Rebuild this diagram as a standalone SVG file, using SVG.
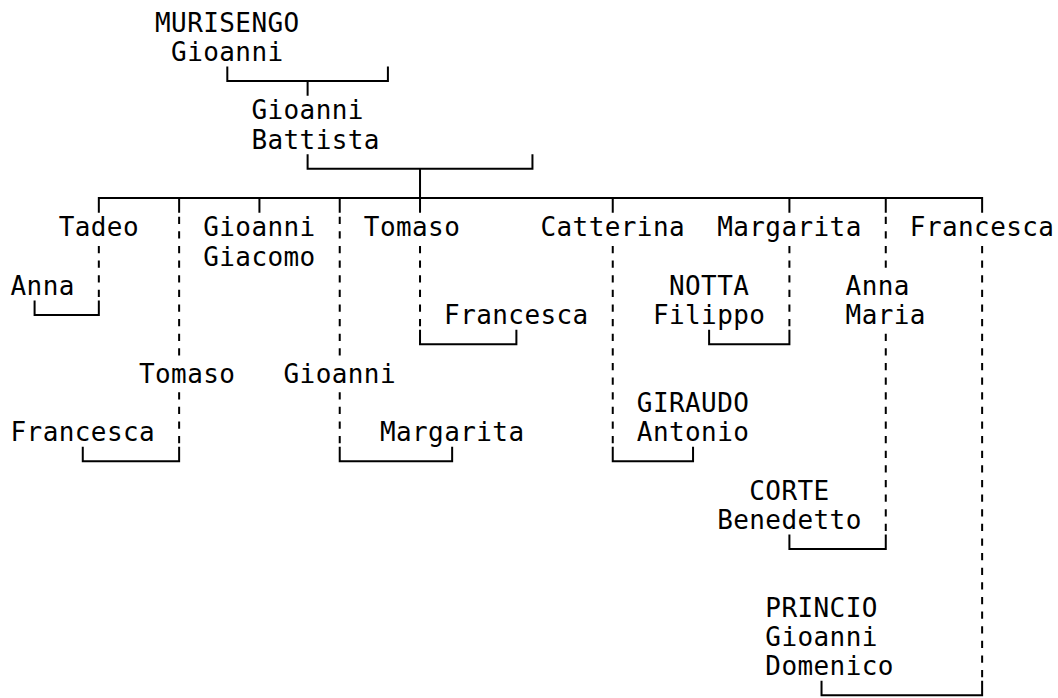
<svg xmlns="http://www.w3.org/2000/svg" width="1058" height="698" viewBox="0 0 1058 698">
<style>
text{font-family:"DejaVu Sans Mono","Liberation Mono",monospace;font-size:26px;letter-spacing:0.41px;fill:#000}
.s{fill:none;stroke:#000;stroke-width:2;stroke-linejoin:miter}
.d{fill:none;stroke:#000;stroke-width:2;stroke-dasharray:7.3 7.325}
</style>
<rect width="1058" height="698" fill="#fff"/>
<g id="connectors">
<path class="s" d="M227.31,66.375V81H387.91V66.375M307.61,81V95.625"/>
<path class="s" d="M307.61,154.125V168.75H532.45V154.125M420.03,168.75V212.625"/>
<path class="s" d="M98.83,212.625V198H982.13V212.625M179.13,198V212.625M259.43,198V212.625M339.73,198V212.625M612.75,198V212.625M789.41,198V212.625M885.77,198V212.625"/>
<path class="s" d="M34.59,300.375V315H98.83V300.375"/>
<path class="s" d="M420.03,329.625V344.25H516.39V329.625M709.11,329.625V344.25H789.41V329.625"/>
<path class="s" d="M82.77,446.625V461.25H179.13V446.625M339.73,446.625V461.25H452.15V446.625M612.75,446.625V461.25H693.05V446.625"/>
<path class="s" d="M789.41,534.375V549H885.77V534.375"/>
<path class="s" d="M821.53,680.625V695.25H982.13V680.625"/>
<path class="d" d="M98.83,245.875V300.375"/>
<path class="d" d="M179.13,216.625V358.875M179.13,392.125V446.625"/>
<path class="d" d="M339.73,216.625V358.875M339.73,392.125V446.625"/>
<path class="d" d="M420.03,245.875V329.625"/>
<path class="d" d="M612.75,245.875V446.625"/>
<path class="d" d="M789.41,245.875V329.625"/>
<path class="d" d="M885.77,216.625V271.125M885.77,333.625V534.375"/>
<path class="d" d="M982.13,245.875V680.625"/>
</g>
<g id="murisengo_gioanni"><text x="155.04" y="31.5">MURISENGO</text><text x="171.1" y="60.75">Gioanni</text></g>
<g id="gioanni_battista"><text x="251.4" y="119.25">Gioanni</text><text x="251.4" y="148.5">Battista</text></g>
<g id="tadeo"><text x="58.68" y="236.25">Tadeo</text></g>
<g id="anna"><text x="10.5" y="294.75">Anna</text></g>
<g id="tomaso_1"><text x="138.98" y="382.5">Tomaso</text></g>
<g id="francesca_1"><text x="10.5" y="441">Francesca</text></g>
<g id="gioanni_giacomo"><text x="203.22" y="236.25">Gioanni</text><text x="203.22" y="265.5">Giacomo</text></g>
<g id="gioanni"><text x="283.52" y="382.5">Gioanni</text></g>
<g id="margarita_1"><text x="379.88" y="441">Margarita</text></g>
<g id="tomaso_2"><text x="363.82" y="236.25">Tomaso</text></g>
<g id="francesca_2"><text x="444.12" y="324">Francesca</text></g>
<g id="catterina"><text x="540.48" y="236.25">Catterina</text></g>
<g id="giraudo_antonio"><text x="636.84" y="411.75">GIRAUDO</text><text x="636.84" y="441">Antonio</text></g>
<g id="margarita_2"><text x="717.14" y="236.25">Margarita</text></g>
<g id="notta_filippo"><text x="668.96" y="294.75">NOTTA</text><text x="652.9" y="324">Filippo</text></g>
<g id="anna_maria"><text x="845.62" y="294.75">Anna</text><text x="845.62" y="324">Maria</text></g>
<g id="corte_benedetto"><text x="749.26" y="499.5">CORTE</text><text x="717.14" y="528.75">Benedetto</text></g>
<g id="francesca_3"><text x="909.86" y="236.25">Francesca</text></g>
<g id="princio_gioanni_domenico"><text x="765.32" y="616.5">PRINCIO</text><text x="765.32" y="645.75">Gioanni</text><text x="765.32" y="675">Domenico</text></g>
</svg>
